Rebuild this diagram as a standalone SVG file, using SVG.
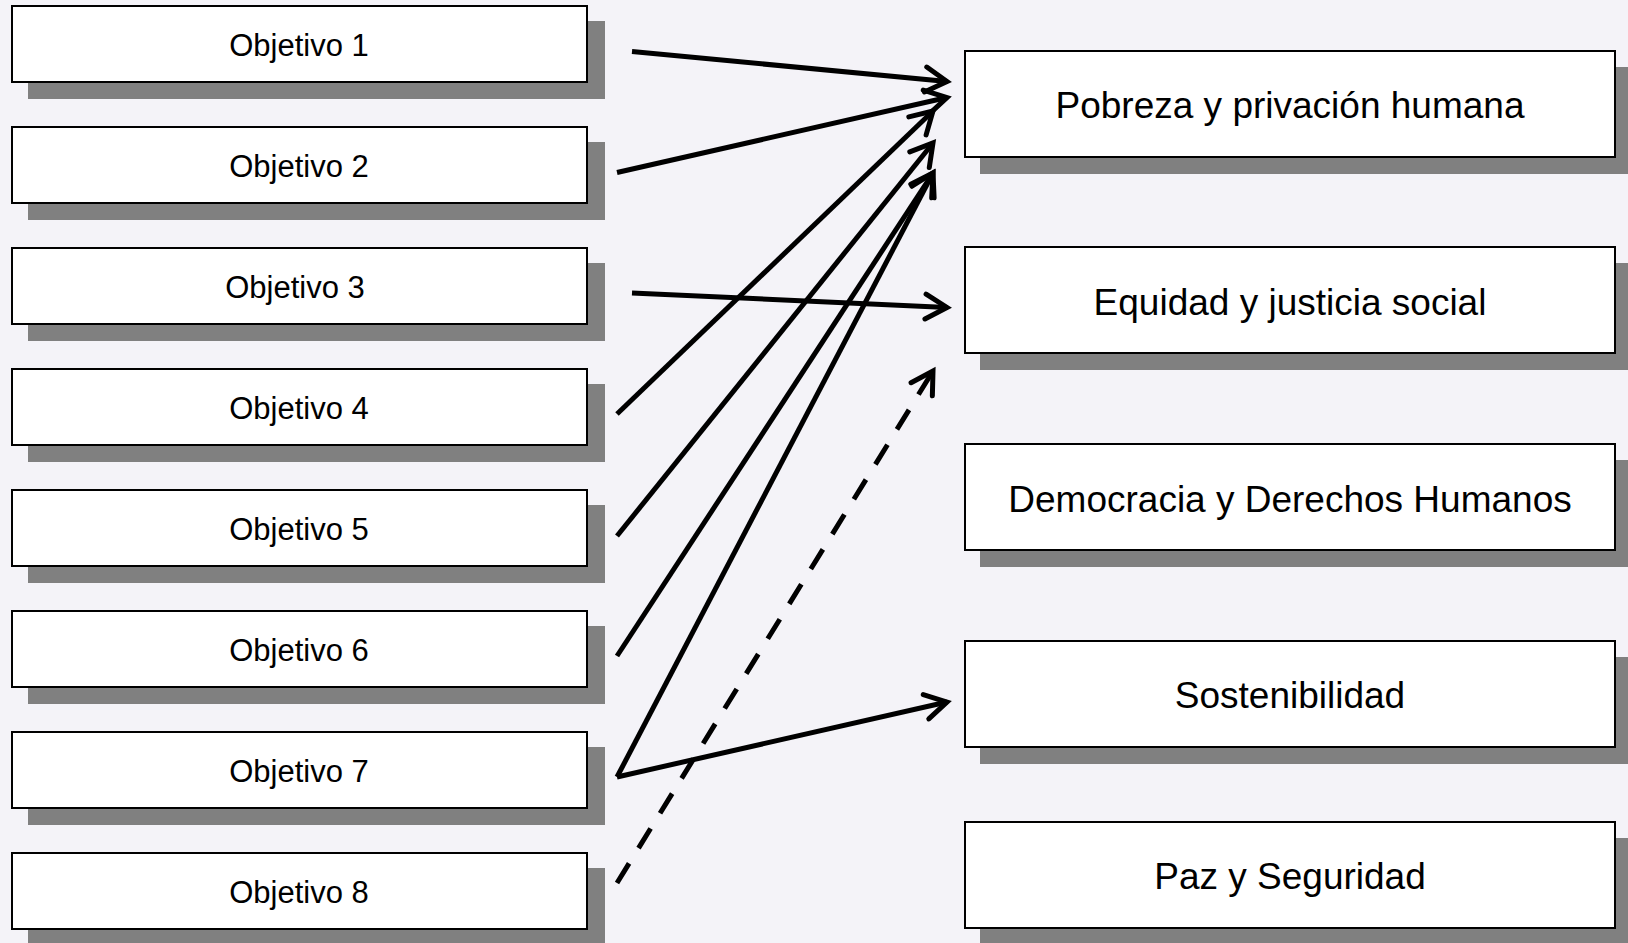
<svg xmlns="http://www.w3.org/2000/svg" width="1628" height="943" viewBox="0 0 1628 943">
<style>
.sh{fill:#808080}
.bx{fill:#fff;stroke:#000;stroke-width:2}
.lt{font-family:"Liberation Sans",Arial,sans-serif;font-size:31px;fill:#000;text-anchor:middle}
.rt{font-family:"Liberation Sans",Arial,sans-serif;font-size:37px;fill:#000;text-anchor:middle}
.cn{stroke:#000;stroke-width:5;fill:none;marker-end:url(#ah)}
.ds{stroke-dasharray:23 18}
</style>
<defs>
<marker id="ah" markerUnits="userSpaceOnUse" markerWidth="40" markerHeight="40" viewBox="-30 -20 40 40" refX="0" refY="0" orient="auto">
<path d="M-21.5,-12.5 L0,0 L-21.5,12.5" fill="none" stroke="#000" stroke-width="5" stroke-linecap="round" stroke-dasharray="none"/>
</marker>
</defs>
<rect width="1628" height="943" fill="#f4f3f8"/>
<g id="obj1"><rect class="sh" x="28" y="21" width="577" height="78"/><rect class="bx" x="12" y="6" width="575" height="76"/><text class="lt" x="299" y="56">Objetivo 1</text></g>
<g id="obj2"><rect class="sh" x="28" y="142" width="577" height="78"/><rect class="bx" x="12" y="127" width="575" height="76"/><text class="lt" x="299" y="177">Objetivo 2</text></g>
<g id="obj3"><rect class="sh" x="28" y="263" width="577" height="78"/><rect class="bx" x="12" y="248" width="575" height="76"/><text class="lt" x="295" y="298">Objetivo 3</text></g>
<g id="obj4"><rect class="sh" x="28" y="384" width="577" height="78"/><rect class="bx" x="12" y="369" width="575" height="76"/><text class="lt" x="299" y="419">Objetivo 4</text></g>
<g id="obj5"><rect class="sh" x="28" y="505" width="577" height="78"/><rect class="bx" x="12" y="490" width="575" height="76"/><text class="lt" x="299" y="540">Objetivo 5</text></g>
<g id="obj6"><rect class="sh" x="28" y="626" width="577" height="78"/><rect class="bx" x="12" y="611" width="575" height="76"/><text class="lt" x="299" y="661">Objetivo 6</text></g>
<g id="obj7"><rect class="sh" x="28" y="747" width="577" height="78"/><rect class="bx" x="12" y="732" width="575" height="76"/><text class="lt" x="299" y="782">Objetivo 7</text></g>
<g id="obj8"><rect class="sh" x="28" y="868" width="577" height="78"/><rect class="bx" x="12" y="853" width="575" height="76"/><text class="lt" x="299" y="903">Objetivo 8</text></g>
<g id="pobreza"><rect class="sh" x="980" y="67" width="650" height="107"/><rect class="bx" x="965" y="51" width="650" height="106"/><text class="rt" x="1290" y="118">Pobreza y privación humana</text></g>
<g id="equidad"><rect class="sh" x="980" y="263" width="650" height="107"/><rect class="bx" x="965" y="247" width="650" height="106"/><text class="rt" x="1290" y="315">Equidad y justicia social</text></g>
<g id="democracia"><rect class="sh" x="980" y="460" width="650" height="107"/><rect class="bx" x="965" y="444" width="650" height="106"/><text class="rt" x="1290" y="512">Democracia y Derechos Humanos</text></g>
<g id="sostenibilidad"><rect class="sh" x="980" y="657" width="650" height="107"/><rect class="bx" x="965" y="641" width="650" height="106"/><text class="rt" x="1290" y="708">Sostenibilidad</text></g>
<g id="paz"><rect class="sh" x="980" y="838" width="650" height="107"/><rect class="bx" x="965" y="822" width="650" height="106"/><text class="rt" x="1290" y="889">Paz y Seguridad</text></g>
<g id="connectors">
<line class="cn" x1="632" y1="51.5" x2="947" y2="81.5"/>
<line class="cn" x1="617" y1="172.5" x2="947" y2="97.5"/>
<line class="cn" x1="632" y1="293" x2="947" y2="307.5"/>
<line class="cn" x1="617" y1="414" x2="933" y2="111"/>
<line class="cn" x1="617" y1="536" x2="933" y2="143"/>
<line class="cn" x1="617" y1="656" x2="933" y2="173"/>
<line class="cn" x1="617" y1="777" x2="933" y2="173"/>
<line class="cn" x1="617" y1="777" x2="947" y2="702"/>
<line class="cn ds" x1="617" y1="883" x2="933" y2="371"/>
</g>
</svg>
